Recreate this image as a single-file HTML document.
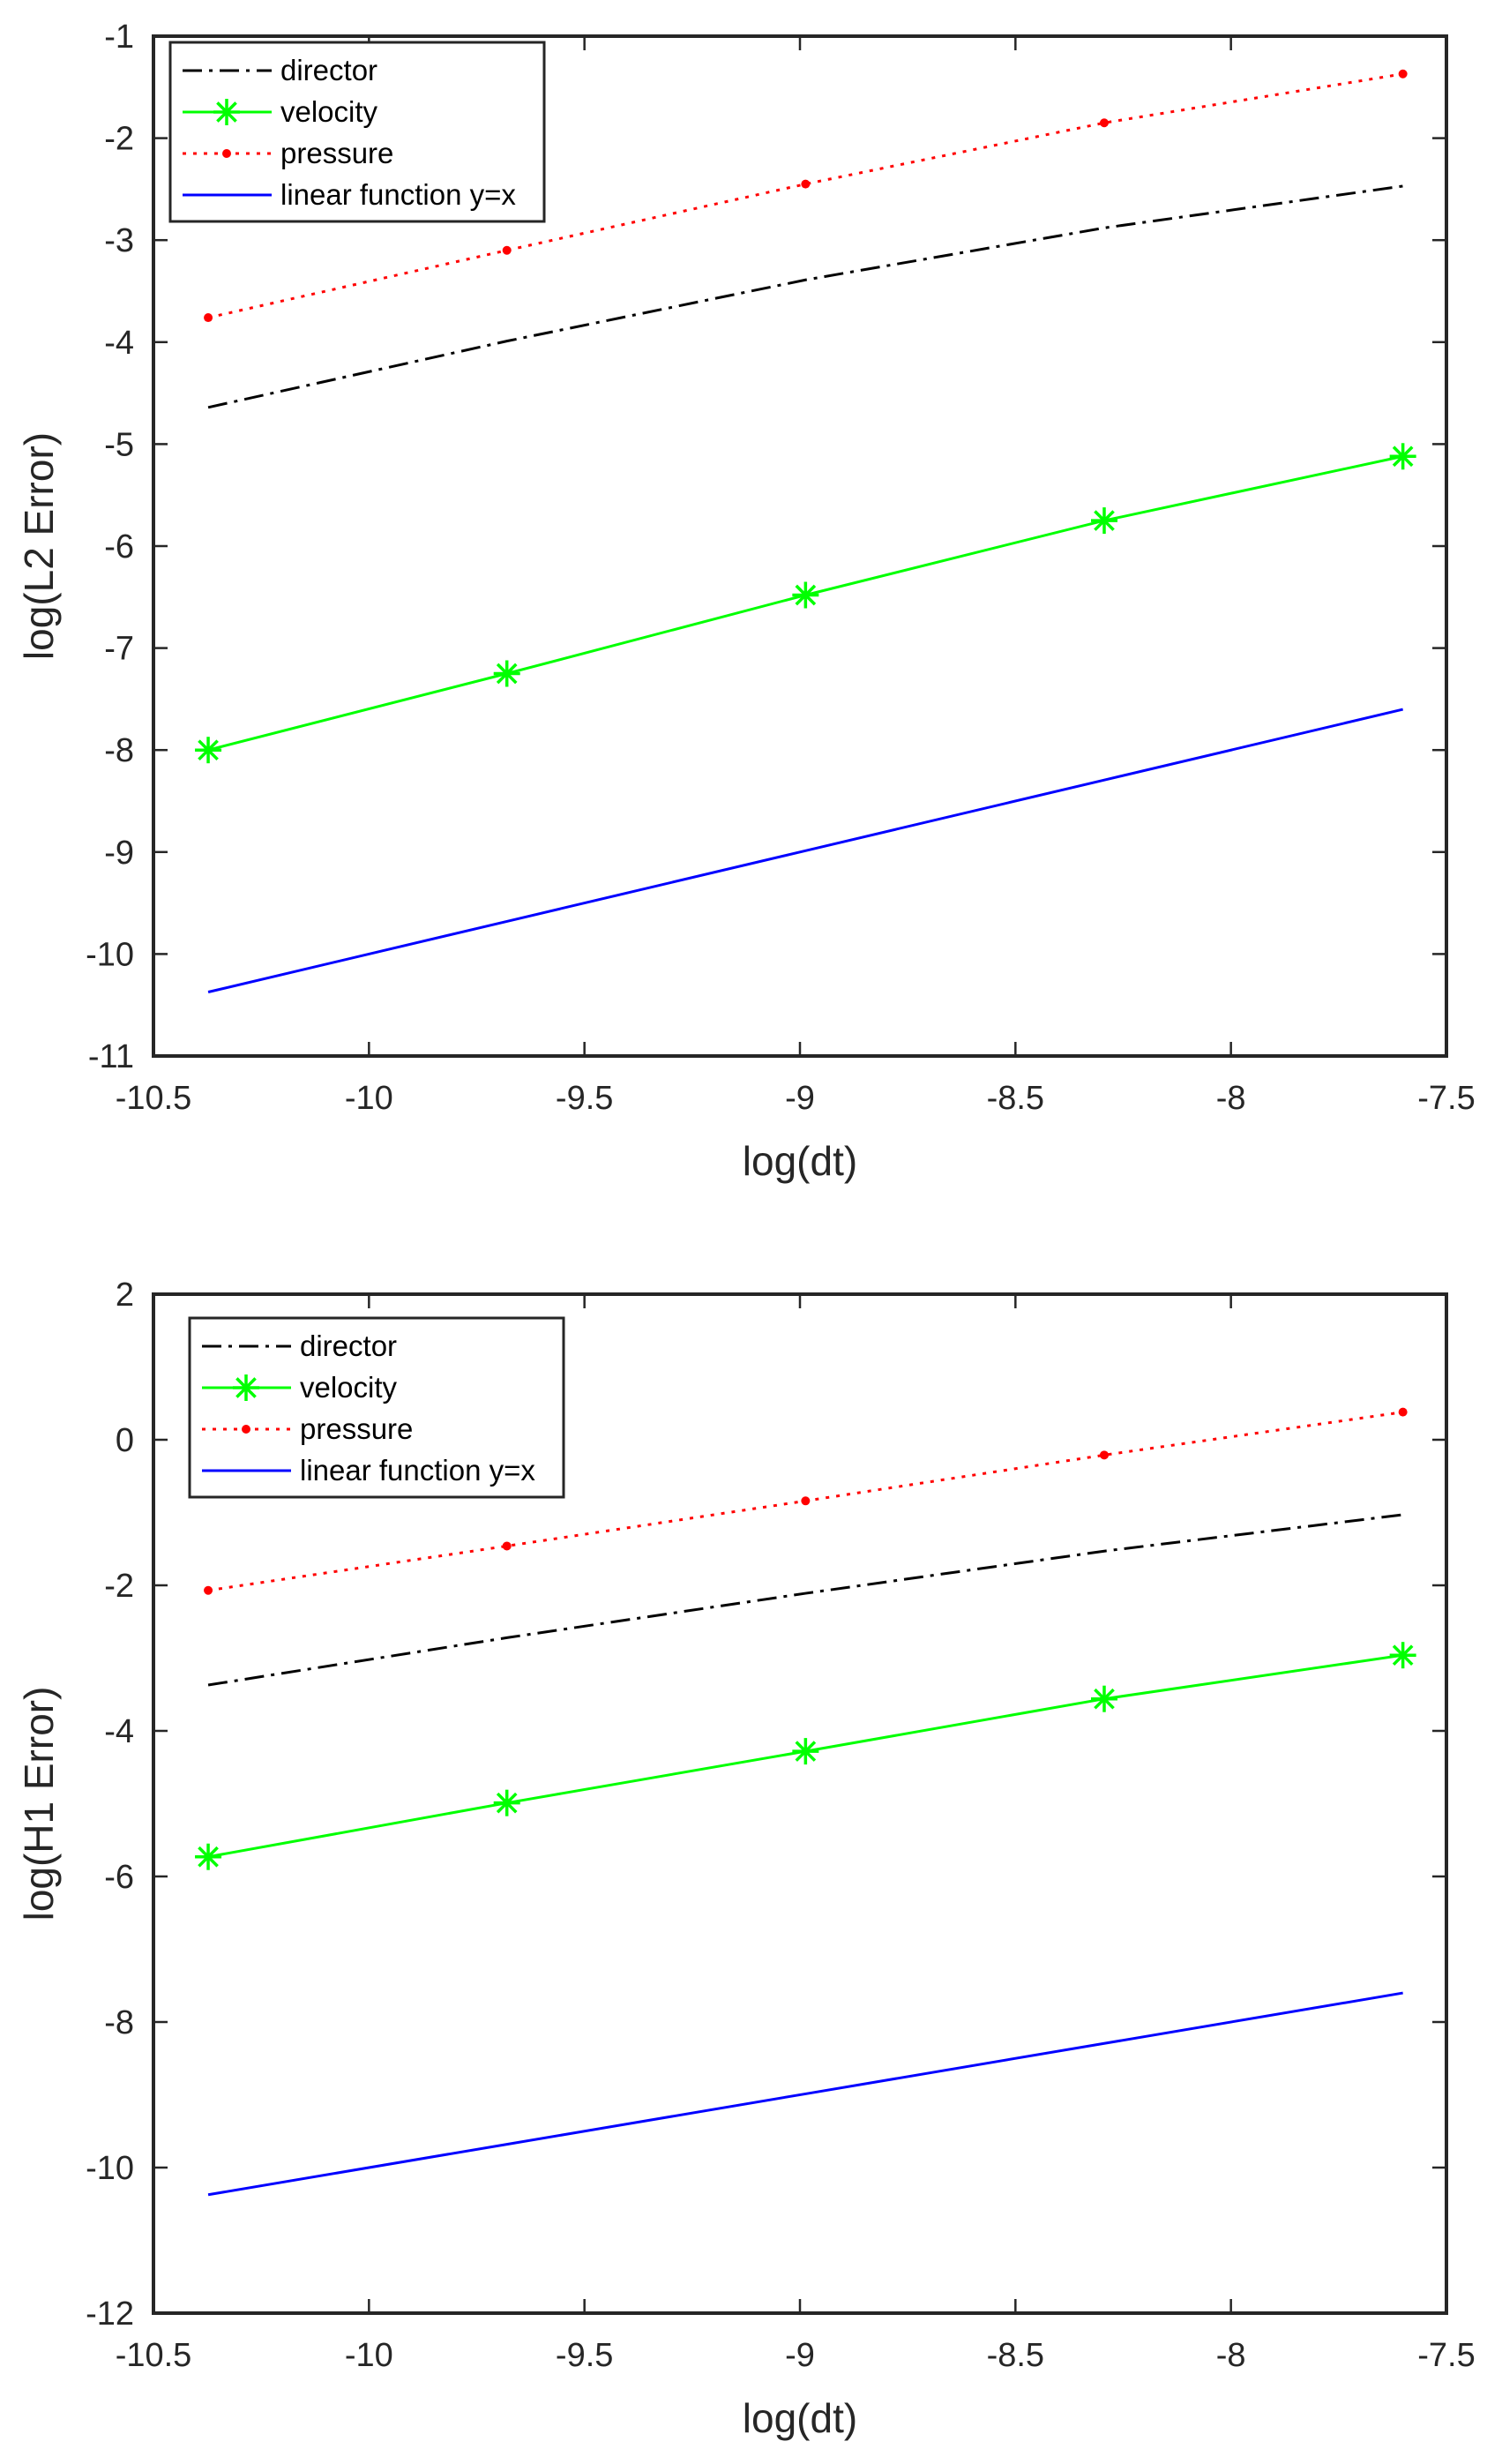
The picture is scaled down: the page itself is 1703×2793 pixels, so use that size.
<!DOCTYPE html>
<html><head><meta charset="utf-8"><style>
html,body{margin:0;padding:0;background:#fff;}
svg{display:block;font-family:"Liberation Sans",sans-serif;}
</style></head><body>
<svg id="chart" width="1703" height="2793" viewBox="0 0 1703 2793" xmlns="http://www.w3.org/2000/svg"></svg>
<script>
const xValues = [-10.373, -9.680, -8.987, -8.294, -7.601];
const xTicks = [-10.5, -10, -9.5, -9, -8.5, -8, -7.5];
const xTickLabels = ["-10.5","-10","-9.5","-9","-8.5","-8","-7.5"];
const l2Director = [-4.64, -3.99, -3.39, -2.88, -2.47];
const l2Velocity = [-8.0, -7.25, -6.48, -5.75, -5.12];
const l2Pressure = [-3.76, -3.10, -2.45, -1.85, -1.37];
const l2Linear = [-10.373, -9.680, -8.987, -8.294, -7.601];
const l2Ticks = [-11,-10,-9,-8,-7,-6,-5,-4,-3,-2,-1];
const h1Director = [-3.37, -2.72, -2.11, -1.53, -1.03];
const h1Velocity = [-5.73, -4.99, -4.28, -3.56, -2.96];
const h1Pressure = [-2.07, -1.46, -0.84, -0.21, 0.38];
const h1Linear = [-10.373, -9.680, -8.987, -8.294, -7.601];
const h1Ticks = [-12,-10,-8,-6,-4,-2,0,2];

const NS = "http://www.w3.org/2000/svg";
const svg = document.getElementById('chart');
function mk(tag, attrs, parent){const e=document.createElementNS(NS,tag);for(const k in attrs)e.setAttribute(k,attrs[k]);(parent||svg).appendChild(e);return e;}

function drawPlot(cfg){
  const L=174,R=1640,T=cfg.top,B=cfg.bottom;
  const g=mk('g',{});
  
  
  const xs=v=>L+(v-(-10.5))/3*(R-L);
  const ys=v=>B-(v-cfg.ymin)/(cfg.ymax-cfg.ymin)*(B-T);
  // ticks
  xTicks.forEach((t,i)=>{
    const x=xs(t);
    const a=mk('line',{x1:x,x2:x,y1:B,y2:B-16,stroke:'#262626','stroke-width':2.5},g);
    
    
    mk('line',{x1:x,x2:x,y1:T,y2:T+16,stroke:'#262626','stroke-width':2.5},g);
    const tx=mk('text',{x:x,y:B+60,'font-size':38,'text-anchor':'middle',fill:'#262626'},g);
    tx.textContent=xTickLabels[i];
    
    
  });
  cfg.yticks.forEach(t=>{
    const y=ys(t);
    mk('line',{x1:L,x2:L+16,y1:y,y2:y,stroke:'#262626','stroke-width':2.5},g);
    mk('line',{x1:R,x2:R-16,y1:y,y2:y,stroke:'#262626','stroke-width':2.5},g);
    const tx=mk('text',{x:152,y:y+13,'font-size':38,'text-anchor':'end',fill:'#262626'},g);
    tx.textContent=String(t);
    
    
  });
  const box=mk('rect',{x:L,y:T,width:R-L,height:B-T,fill:'none',stroke:'#262626','stroke-width':4},g);
  
  
  const pts=arr=>arr.map((v,i)=>xs(xValues[i])+','+ys(v)).join(' ');
  const series=[
    {d:cfg.linear,stroke:'#0000ff',dash:'',name:'linear-series'},
    {d:cfg.director,stroke:'#000',dash:'22 8 4 8',name:'director-series'},
    {d:cfg.velocity,stroke:'#00ff00',dash:'',name:'velocity-series'},
    {d:cfg.pressure,stroke:'#ff0000',dash:'4 8',name:'pressure-series'}];
  series.forEach(s=>{
    const p=mk('polyline',{points:pts(s.d),fill:'none',stroke:s.stroke,'stroke-width':3,'stroke-dasharray':s.dash},g);
    
    
  });
  cfg.velocity.forEach((v,i)=>{
    const cx=xs(xValues[i]),cy=ys(v);
    const m=mk('g',{stroke:'#00ff00','stroke-width':3.5},g);
    
    
    star(m,cx,cy);
  });
  cfg.pressure.forEach((v,i)=>{
    const c=mk('circle',{cx:xs(xValues[i]),cy:ys(v),r:5,fill:'#ff0000'},g);
    
    
  });
  // legend
  const lx=cfg.legX,ly=cfg.legY;
  const lg=mk('g',{},g);
  
  
  mk('rect',{x:lx,y:ly,width:424,height:203,fill:'#fff',stroke:'#262626','stroke-width':3},lg);
  const items=[['director','#000','22 8 4 8'],['velocity','#00ff00',''],['pressure','#ff0000','4 8'],['linear function y=x','#0000ff','']];
  items.forEach((it,k)=>{
    const yy=ly+32+k*47;
    const e=mk('g',{},lg);
    
    
    mk('line',{x1:lx+14,x2:lx+115,y1:yy,y2:yy,stroke:it[1],'stroke-width':3,'stroke-dasharray':it[2]},e);
    if(k==1){const m=mk('g',{stroke:'#00ff00','stroke-width':3.5},e);star(m,lx+64,yy);}
    if(k==2)mk('circle',{cx:lx+64,cy:yy,r:5,fill:'#ff0000'},e);
    const t=mk('text',{x:lx+125,y:yy+11,'font-size':33,fill:'#000'},e);
    t.textContent=it[0];
  });
  const yl=mk('text',{x:0,y:0,'font-size':46,'text-anchor':'middle',fill:'#262626',transform:`translate(60,${(T+B)/2}) rotate(-90)`},g);
  yl.textContent=cfg.ylabel;
  
  
  const xl=mk('text',{x:(L+R)/2,y:B+135,'font-size':46,'text-anchor':'middle',fill:'#262626'},g);
  xl.textContent='log(dt)';
  
  
}
function star(m,cx,cy){
  const r=15,d=10.6;
  mk('line',{x1:cx-r,x2:cx+r,y1:cy,y2:cy},m);
  mk('line',{x1:cx,x2:cx,y1:cy-r,y2:cy+r},m);
  mk('line',{x1:cx-d,x2:cx+d,y1:cy-d,y2:cy+d},m);
  mk('line',{x1:cx-d,x2:cx+d,y1:cy+d,y2:cy-d},m);
}
drawPlot({name:'l2-error-plot',top:41,bottom:1197,ymin:-11,ymax:-1,yticks:l2Ticks,director:l2Director,velocity:l2Velocity,pressure:l2Pressure,linear:l2Linear,legX:193,legY:48,ylabel:'log(L2 Error)'});
drawPlot({name:'h1-error-plot',top:1467,bottom:2622,ymin:-12,ymax:2,yticks:h1Ticks,director:h1Director,velocity:h1Velocity,pressure:h1Pressure,linear:h1Linear,legX:215,legY:1494,ylabel:'log(H1 Error)'});
</script>
</body></html>
